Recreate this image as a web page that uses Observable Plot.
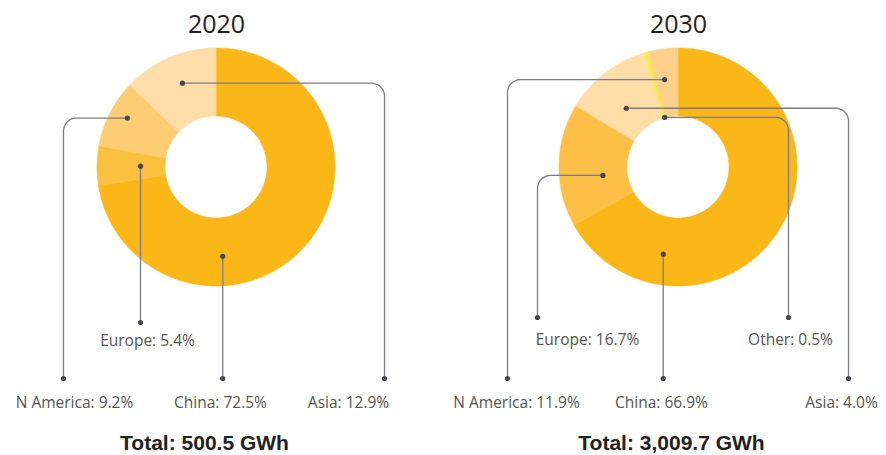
<!DOCTYPE html>
<html>
<head>
<meta charset="utf-8">
<script src="https://cdn.jsdelivr.net/npm/d3@7"></script>
<script src="https://cdn.jsdelivr.net/npm/@observablehq/plot@0.6"></script>
<style>
  html, body { margin: 0; padding: 0; background: #fff; }
  #chart svg { display: block; }
</style>
</head>
<body>
<div id="chart"></div>
<script>
// ---- Data ----
const years = ["2020", "2030"];
const totals = ["500.5", "3,009.7"];
const regions2020 = ["China", "Europe", "N America", "Asia"];
const shares2020 = [72.5, 5.4, 9.2, 12.9];
const regions2030 = ["China", "Europe", "N America", "Other", "Asia"];
const shares2030 = [66.9, 16.7, 11.9, 0.5, 4.0];

// ---- Styles ----
const colors2020 = ["#FBB618", "#FCC041", "#FDCD74", "#FEDDA8"];
const colors2030 = ["#FBB618", "#FDBF45", "#FEDDA6", "#F3EE3A", "#FDD18C"];

// ---- Layout ----
const W = 886, H = 455;
const centersX = [216, 678];
const centerY = 167;
const R_OUT = 119, R_IN = 51;
const CORNER = 13;
// leader layout per label: anchor angle (deg, clockwise from top), anchor radius,
// elbow offset from centre (null = straight down), end y, label offset, label y
const leaders2020 = [
  {region: "China",     angle: 176,   rho: 89,  elbow: null, endY: 378, labelDx: 4,    labelY: 403},
  {region: "Europe",    angle: 271,   rho: 76,  elbow: null, endY: 322, labelDx: -69,  labelY: 341},
  {region: "N America", angle: 299,   rho: 102, elbow: -153, endY: 378, labelDx: -142, labelY: 403},
  {region: "Asia",      angle: 338,   rho: 91,  elbow: 168,  endY: 378, labelDx: 132,  labelY: 403}
];
const leaders2030 = [
  {region: "China",     angle: 190,   rho: 88,  elbow: null, endY: 378, labelDx: -17,  labelY: 403},
  {region: "Europe",    angle: 264,   rho: 76,  elbow: -141, endY: 317, labelDx: -91,  labelY: 340},
  {region: "N America", angle: 351,   rho: 89,  elbow: -171, endY: 378, labelDx: -162, labelY: 403},
  {region: "Other",     angle: 344.7, rho: 52,  elbow: 110,  endY: 317, labelDx: 112,  labelY: 340},
  {region: "Asia",      angle: 318.6, rho: 79,  elbow: 170,  endY: 378, labelDx: 163,  labelY: 403}
];

const datasets = [
  {year: years[0], regions: regions2020, shares: shares2020, colors: colors2020, leaders: leaders2020},
  {year: years[1], regions: regions2030, shares: shares2030, colors: colors2030, leaders: leaders2030}
];

const rad = d => d * Math.PI / 180;
const polar = (cx, deg, r) => [cx + r * Math.sin(rad(deg)), centerY - r * Math.cos(rad(deg))];

// ---- Build slice polygons (annular sectors) from shares ----
const arcPts = [];
datasets.forEach((ds, yi) => {
  const cx = centersX[yi];
  const total = d3.sum(ds.shares);
  let start = 0;
  ds.shares.forEach((s, i) => {
    const span = s / total * 360;
    const n = Math.max(2, Math.ceil(span / 0.75));
    for (let k = 0; k <= n; k++) {
      const a = start + span * k / n;
      const [xo, yo] = polar(cx, a, R_OUT);
      const [xi, yi2] = polar(cx, a, R_IN);
      arcPts.push({key: ds.year + "-" + ds.regions[i], x1: xo, y1: yo, x2: xi, y2: yi2, color: ds.colors[i]});
    }
    start += span;
  });
});

// ---- Leader lines ----
const leaderPts = [];
const leaderDots = [];
const labels = [];
datasets.forEach((ds, yi) => {
  const cx = centersX[yi];
  ds.leaders.forEach(L => {
    const id = ds.year + "-" + L.region;
    const [ax, ay] = polar(cx, L.angle, L.rho);
    const pts = [[ax, ay]];
    let ex = ax;
    if (L.elbow !== null) {
      ex = cx + L.elbow;
      const dir = ex > ax ? 1 : -1;
      const ccx = ex - dir * CORNER, ccy = ay + CORNER;
      pts.push([ccx, ay]);
      for (let k = 1; k <= 10; k++) {
        const phi = -Math.PI / 2 + (dir > 0 ? 1 : -1) * (Math.PI / 2) * k / 10;
        pts.push([ccx + CORNER * Math.cos(phi), ccy + CORNER * Math.sin(phi)]);
      }
    }
    pts.push([ex, L.endY]);
    pts.forEach(([x, y]) => leaderPts.push({id, x, y}));
    leaderDots.push({x: ax, y: ay}, {x: ex, y: L.endY});
    const idx = ds.regions.indexOf(L.region);
    labels.push({x: cx + L.labelDx, y: L.labelY, text: `${L.region}: ${ds.shares[idx].toFixed(1)}%`});
  });
});

const titles = years.map((y, i) => ({x: centersX[i], y: 24, text: y}));
const totalTexts = totals.map((t, i) => ({x: centersX[i] + [-12, -7][i], y: 443, text: `Total: ${t} GWh`}));

const chart = Plot.plot({
  width: W,
  height: H,
  margin: 0,
  x: {type: "linear", domain: [0, W], range: [0, W], axis: null},
  y: {type: "linear", domain: [0, H], range: [0, H], axis: null},
  color: {type: "identity"},
  style: {background: "#fff"},
  marks: [
    Plot.area(arcPts, {x1: "x1", y1: "y1", x2: "x2", y2: "y2", z: "key", fill: "color", stroke: "color", strokeWidth: 0.6}),
    Plot.line(leaderPts, {x: "x", y: "y", z: "id", stroke: "#7c7c84", strokeWidth: 1.3}),
    Plot.dot(leaderDots, {x: "x", y: "y", r: 2.6, fill: "#474753", stroke: "none"}),
    Plot.text(labels, {x: "x", y: "y", text: "text", fontSize: 15.5, fill: "#555", fontFamily: "Open Sans", letterSpacing: 0.6}),
    Plot.text(titles, {x: "x", y: "y", text: "text", fontSize: 25, fill: "#222", fontFamily: "Open Sans", fontWeight: 500, letterSpacing: 0.5}),
    Plot.text(totalTexts, {x: "x", y: "y", text: "text", fontSize: 21, fill: "#222", fontFamily: "Liberation Sans", fontWeight: "bold"})
  ]
});
document.getElementById("chart").appendChild(chart);
</script>
</body>
</html>
